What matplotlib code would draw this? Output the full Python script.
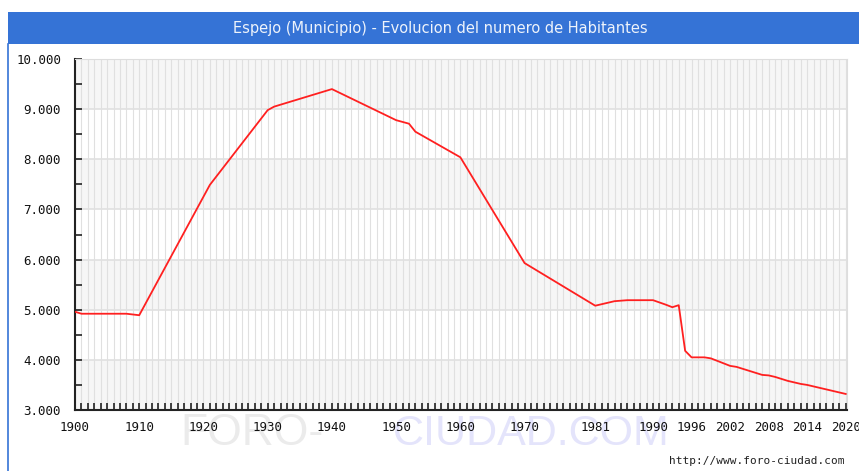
import numpy as np
import matplotlib.pyplot as plt
from matplotlib.patches import Rectangle
from matplotlib.lines import Line2D

# Datos (habitantes)
years = [1900, 1901, 1908, 1910, 1921, 1930, 1931, 1940, 1950, 1952, 1953, 1960,
         1970, 1981, 1984, 1986, 1990, 1992, 1993, 1994, 1995, 1996, 1998,
         1999, 2000, 2001, 2002, 2003, 2004, 2005, 2006, 2007, 2008, 2009,
         2010, 2011, 2012, 2013, 2014, 2015, 2016, 2017, 2018, 2019, 2020]
habitantes = [4960, 4920, 4920, 4890, 7490, 8980, 9050, 9400, 8780, 8710, 8550, 8040,
              5930, 5080, 5170, 5190, 5190, 5100, 5050, 5090, 4180, 4050, 4050,
              4030, 3980, 3930, 3880, 3860, 3820, 3780, 3740, 3700, 3690, 3660,
              3620, 3580, 3550, 3520, 3500, 3470, 3440, 3410, 3380, 3350, 3320]

tick_years = [1900, 1910, 1920, 1930, 1940, 1950, 1960, 1970, 1981, 1990,
              1996, 2002, 2008, 2014, 2020]
y_ticks = [3000, 4000, 5000, 6000, 7000, 8000, 9000, 10000]
y_labels = ['3.000', '4.000', '5.000', '6.000', '7.000', '8.000', '9.000', '10.000']

titulo = 'Espejo (Municipio) - Evolucion del numero de Habitantes'
azul = '#3573d6'

W, H = 859, 471
fig = plt.figure(figsize=(W / 100, H / 100), dpi=100)

# marco y barra de titulo (pixeles de la figura)
def px(x, y):
    return x / W, 1 - y / H

fig.patches.append(Rectangle(px(8, 44), (W - 8) / W, 32 / H, transform=fig.transFigure,
                             facecolor=azul, edgecolor='none', zorder=0))
fig.lines.append(Line2D([8 / W, 8 / W], [0, 1 - 44 / H], transform=fig.transFigure,
                        color=azul, lw=1.2))
fig.text(440 / W, 1 - 29 / H, titulo, color='#eef3fb', fontsize=10.5,
         ha='center', va='center', family='DejaVu Sans')

# marca de agua (detras de los ejes)
fig.text(180 / W, 1 - 445 / H, 'FORO-', color='#ebebeb', fontsize=32,
         family='Liberation Sans', ha='left', va='baseline', zorder=-1)
fig.text(393 / W, 1 - 445 / H, 'CIUDAD.COM', color='#e4e4fb', fontsize=31,
         family='Liberation Sans', ha='left', va='baseline', zorder=-1)
fig.text(845 / W, 1 - 461 / H, 'http://www.foro-ciudad.com', color='#222222',
         fontsize=8, family='DejaVu Sans Mono', ha='right', va='center')

ax = fig.add_axes([75 / W, 1 - 410 / H, 772 / W, 351 / H])
ax.patch.set_alpha(0)
ax.set_xlim(1900, 2020.2)
ax.set_ylim(3000, 10000)

# bandas alternas
for lo in range(3000, 10000, 2000):
    ax.axhspan(lo, lo + 1000, color='#f6f6f6', zorder=0, lw=0)

ax.set_xticks(tick_years)
ax.set_xticks(np.arange(1900, 2021), minor=True)
ax.set_yticks(y_ticks)
ax.set_yticklabels(y_labels)
ax.set_yticks(np.arange(3500, 10000, 1000), minor=True)

ax.grid(True, which='both', axis='x', color='#e0e0e0', lw=0.8, zorder=1)
ax.grid(True, which='major', axis='y', color='#e0e0e0', lw=1.2, zorder=1)

ax.tick_params(which='both', direction='in', length=5, width=1.2, color='#222222')
ax.tick_params(axis='x', labelsize=9, labelcolor='#111111', pad=8)
ax.tick_params(axis='y', labelsize=9, labelcolor='#111111', pad=10)
for lab in ax.get_xticklabels() + ax.get_yticklabels():
    lab.set_family('DejaVu Sans Mono')

for s in ['top', 'right']:
    ax.spines[s].set_color('#dddddd')
for s in ['left', 'bottom']:
    ax.spines[s].set_color('#222222')
    ax.spines[s].set_linewidth(1.5)

ax.plot(years, habitantes, color='#ff2020', lw=1.3, zorder=3)

fig.savefig('out.png', dpi=100)
